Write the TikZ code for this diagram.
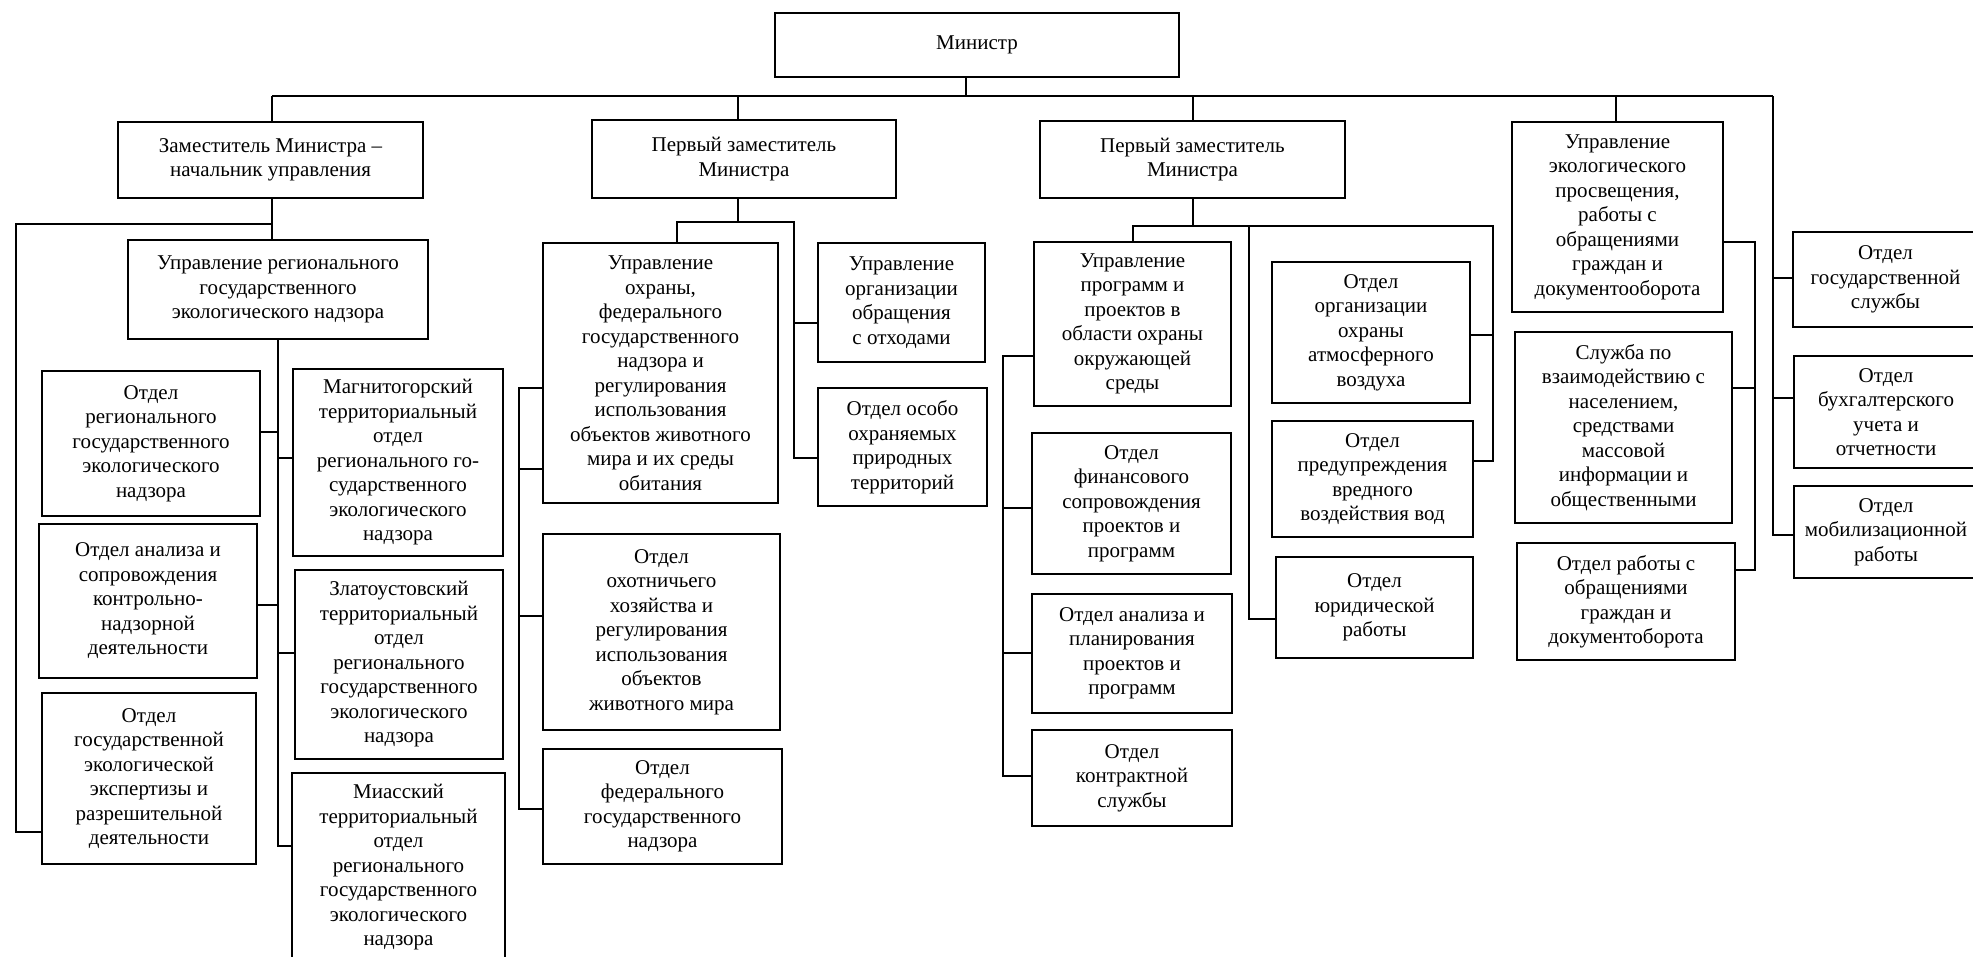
\documentclass[tikz,border=0pt]{standalone}
\usepackage{fontspec}
\setmainfont{Liberation Serif}
\newcommand\ob[6]{\node[box,minimum width={#4-#2},minimum height={#5-#3}] (#1) at ({(#2+#4)/2},{(#3+#5)/2}) {#6};}
\begin{document}
\begin{tikzpicture}[x=1pt,y=-1pt,
  box/.style={draw,line width=2pt,inner sep=0pt,align=center,font=\fontsize{21}{24.5}\selectfont},
  ln/.style={line width=2pt}]
\useasboundingbox (0,0) rectangle (1973,956);
% --- boxes ---
\ob{min}{775}{13}{1179}{77}{Министр}
\ob{zam}{118}{122}{423}{198}{Заместитель Министра –\\начальник управления}
\ob{pz1}{592}{120}{896}{198}{Первый заместитель\\Министра}
\ob{pz2}{1040}{121}{1345}{198}{Первый заместитель\\Министра}
\ob{ue}{1512}{122}{1723}{312}{Управление\\экологического\\просвещения,\\работы с\\обращениями\\граждан и\\документооборота}
\ob{gs}{1793}{232}{1978}{327}{Отдел\\государственной\\службы}
\ob{bu}{1794}{356}{1978}{468}{Отдел\\бухгалтерского\\учета и\\отчетности}
\ob{mo}{1794}{486}{1978}{578}{Отдел\\мобилизационной\\работы}
\ob{ur}{128}{240}{428}{339}{Управление регионального\\государственного\\экологического надзора}
\ob{or1}{42}{371}{260}{516}{Отдел\\регионального\\государственного\\экологического\\надзора}
\ob{oa}{39}{524}{257}{678}{Отдел анализа и\\сопровождения\\контрольно-\\надзорной\\деятельности}
\ob{oe}{42}{693}{256}{864}{Отдел\\государственной\\экологической\\экспертизы и\\разрешительной\\деятельности}
\ob{mg}{293}{369}{503}{556}{Магнитогорский\\территориальный\\отдел\\регионального го-\\сударственного\\экологического\\надзора}
\ob{zl}{295}{570}{503}{759}{Златоустовский\\территориальный\\отдел\\регионального\\государственного\\экологического\\надзора}
\ob{mi}{292}{773}{505}{962}{Миасский\\территориальный\\отдел\\регионального\\государственного\\экологического\\надзора}
\ob{uo}{543}{243}{778}{503}{Управление\\охраны,\\федерального\\государственного\\надзора и\\регулирования\\использования\\объектов животного\\мира и их среды\\обитания}
\ob{ok}{543}{534}{780}{730}{Отдел\\охотничьего\\хозяйства и\\регулирования\\использования\\объектов\\животного мира}
\ob{of}{543}{749}{782}{864}{Отдел\\федерального\\государственного\\надзора}
\ob{uot}{818}{243}{985}{362}{Управление\\организации\\обращения\\с отходами}
\ob{oop}{818}{388}{987}{506}{Отдел особо\\охраняемых\\природных\\территорий}
\ob{up}{1034}{242}{1231}{406}{Управление\\программ и\\проектов в\\области охраны\\окружающей\\среды}
\ob{ofin}{1032}{433}{1231}{574}{Отдел\\финансового\\сопровождения\\проектов и\\программ}
\ob{oapl}{1032}{594}{1232}{713}{Отдел анализа и\\планирования\\проектов и\\программ}
\ob{okon}{1032}{730}{1232}{826}{Отдел\\контрактной\\службы}
\ob{oatm}{1272}{262}{1470}{403}{Отдел\\организации\\охраны\\атмосферного\\воздуха}
\ob{opr}{1272}{421}{1473}{537}{Отдел\\предупреждения\\вредного\\воздействия вод}
\ob{oyu}{1276}{557}{1473}{658}{Отдел\\юридической\\работы}
\ob{sl}{1515}{332}{1732}{523}{Служба по\\взаимодействию с\\населением,\\средствами\\массовой\\информации и\\общественными}
\ob{orb}{1517}{543}{1735}{660}{Отдел работы с\\обращениями\\граждан и\\документоборота}
% --- top bus ---
\coordinate (J0) at (272,96);
\coordinate (J1) at (738,96);
\coordinate (Jm) at (966,96);
\coordinate (J2) at (1193,96);
\coordinate (J4) at (1616,96);
\coordinate (J5) at (1773,96);
\draw[ln] (J0) -- (J5);
\draw[ln] (min.south -| Jm) -- (Jm);
\draw[ln] (J0) -- (J0 |- zam.north);
\draw[ln] (J1) -- (J1 |- pz1.north);
\draw[ln] (J2) -- (J2 |- pz2.north);
\draw[ln] (J4) -- (J4 |- ue.north);
% --- deputy minister group ---
\coordinate (Z1) at (272,224);
\coordinate (Z0) at (16,224);
\coordinate (Z2) at (16,832);
\draw[ln] (J0 |- zam.south) -- (J0 |- ur.north);
\draw[ln] (Z1) -- (Z0) -- (Z2) -- (oe.west |- Z2);
\coordinate (R5) at (278,846);
\draw[ln] (ur.south) -- (R5) -- (mi.west |- R5);
\draw[ln] (278,432) -- (or1.east |- 278,432);
\draw[ln] (278,458) -- (mg.west |- 278,458);
\draw[ln] (278,605) -- (oa.east |- 278,605);
\draw[ln] (278,653) -- (zl.west |- 278,653);
% --- first deputy 1 ---
\coordinate (P1) at (677,222);
\coordinate (P2) at (794,222);
\draw[ln] (J1 |- pz1.south) -- (J1 |- P1);
\draw[ln] (P1 |- uo.north) -- (P1) -- (P2) -- (794,458) -- (oop.west |- 794,458);
\draw[ln] (794,323) -- (uot.west |- 794,323);
\coordinate (U0) at (519,388);
\coordinate (U5) at (519,809);
\draw[ln] (uo.west |- U0) -- (U0) -- (U5) -- (of.west |- U5);
\draw[ln] (519,469) -- (uo.west |- 519,469);
\draw[ln] (519,616) -- (ok.west |- 519,616);
% --- first deputy 2 ---
\coordinate (Q0) at (1133,226);
\coordinate (Q1) at (1249,226);
\coordinate (Q2) at (1493,226);
\draw[ln] (J2 |- pz2.south) -- (J2 |- Q0);
\draw[ln] (Q0 |- up.north) -- (Q0) -- (Q2) -- (1493,461) -- (opr.east |- 1493,461);
\draw[ln] (Q1) -- (1249,619) -- (oyu.west |- 1249,619);
\draw[ln] (1493,335) -- (oatm.east |- 1493,335);
\coordinate (V0) at (1003,356);
\coordinate (V5) at (1003,776);
\draw[ln] (up.west |- V0) -- (V0) -- (V5) -- (okon.west |- V5);
\draw[ln] (1003,508) -- (ofin.west |- 1003,508);
\draw[ln] (1003,653) -- (oapl.west |- 1003,653);
% --- ecology education ---
\coordinate (E0) at (1755,242);
\coordinate (E5) at (1755,570);
\draw[ln] (ue.east |- E0) -- (E0) -- (E5) -- (orb.east |- E5);
\draw[ln] (1755,388) -- (sl.east |- 1755,388);
% --- right column ---
\coordinate (K5) at (1773,535);
\draw[ln] (J5) -- (K5) -- (mo.west |- K5);
\draw[ln] (1773,278) -- (gs.west |- 1773,278);
\draw[ln] (1773,398) -- (bu.west |- 1773,398);
\end{tikzpicture}
\end{document}
